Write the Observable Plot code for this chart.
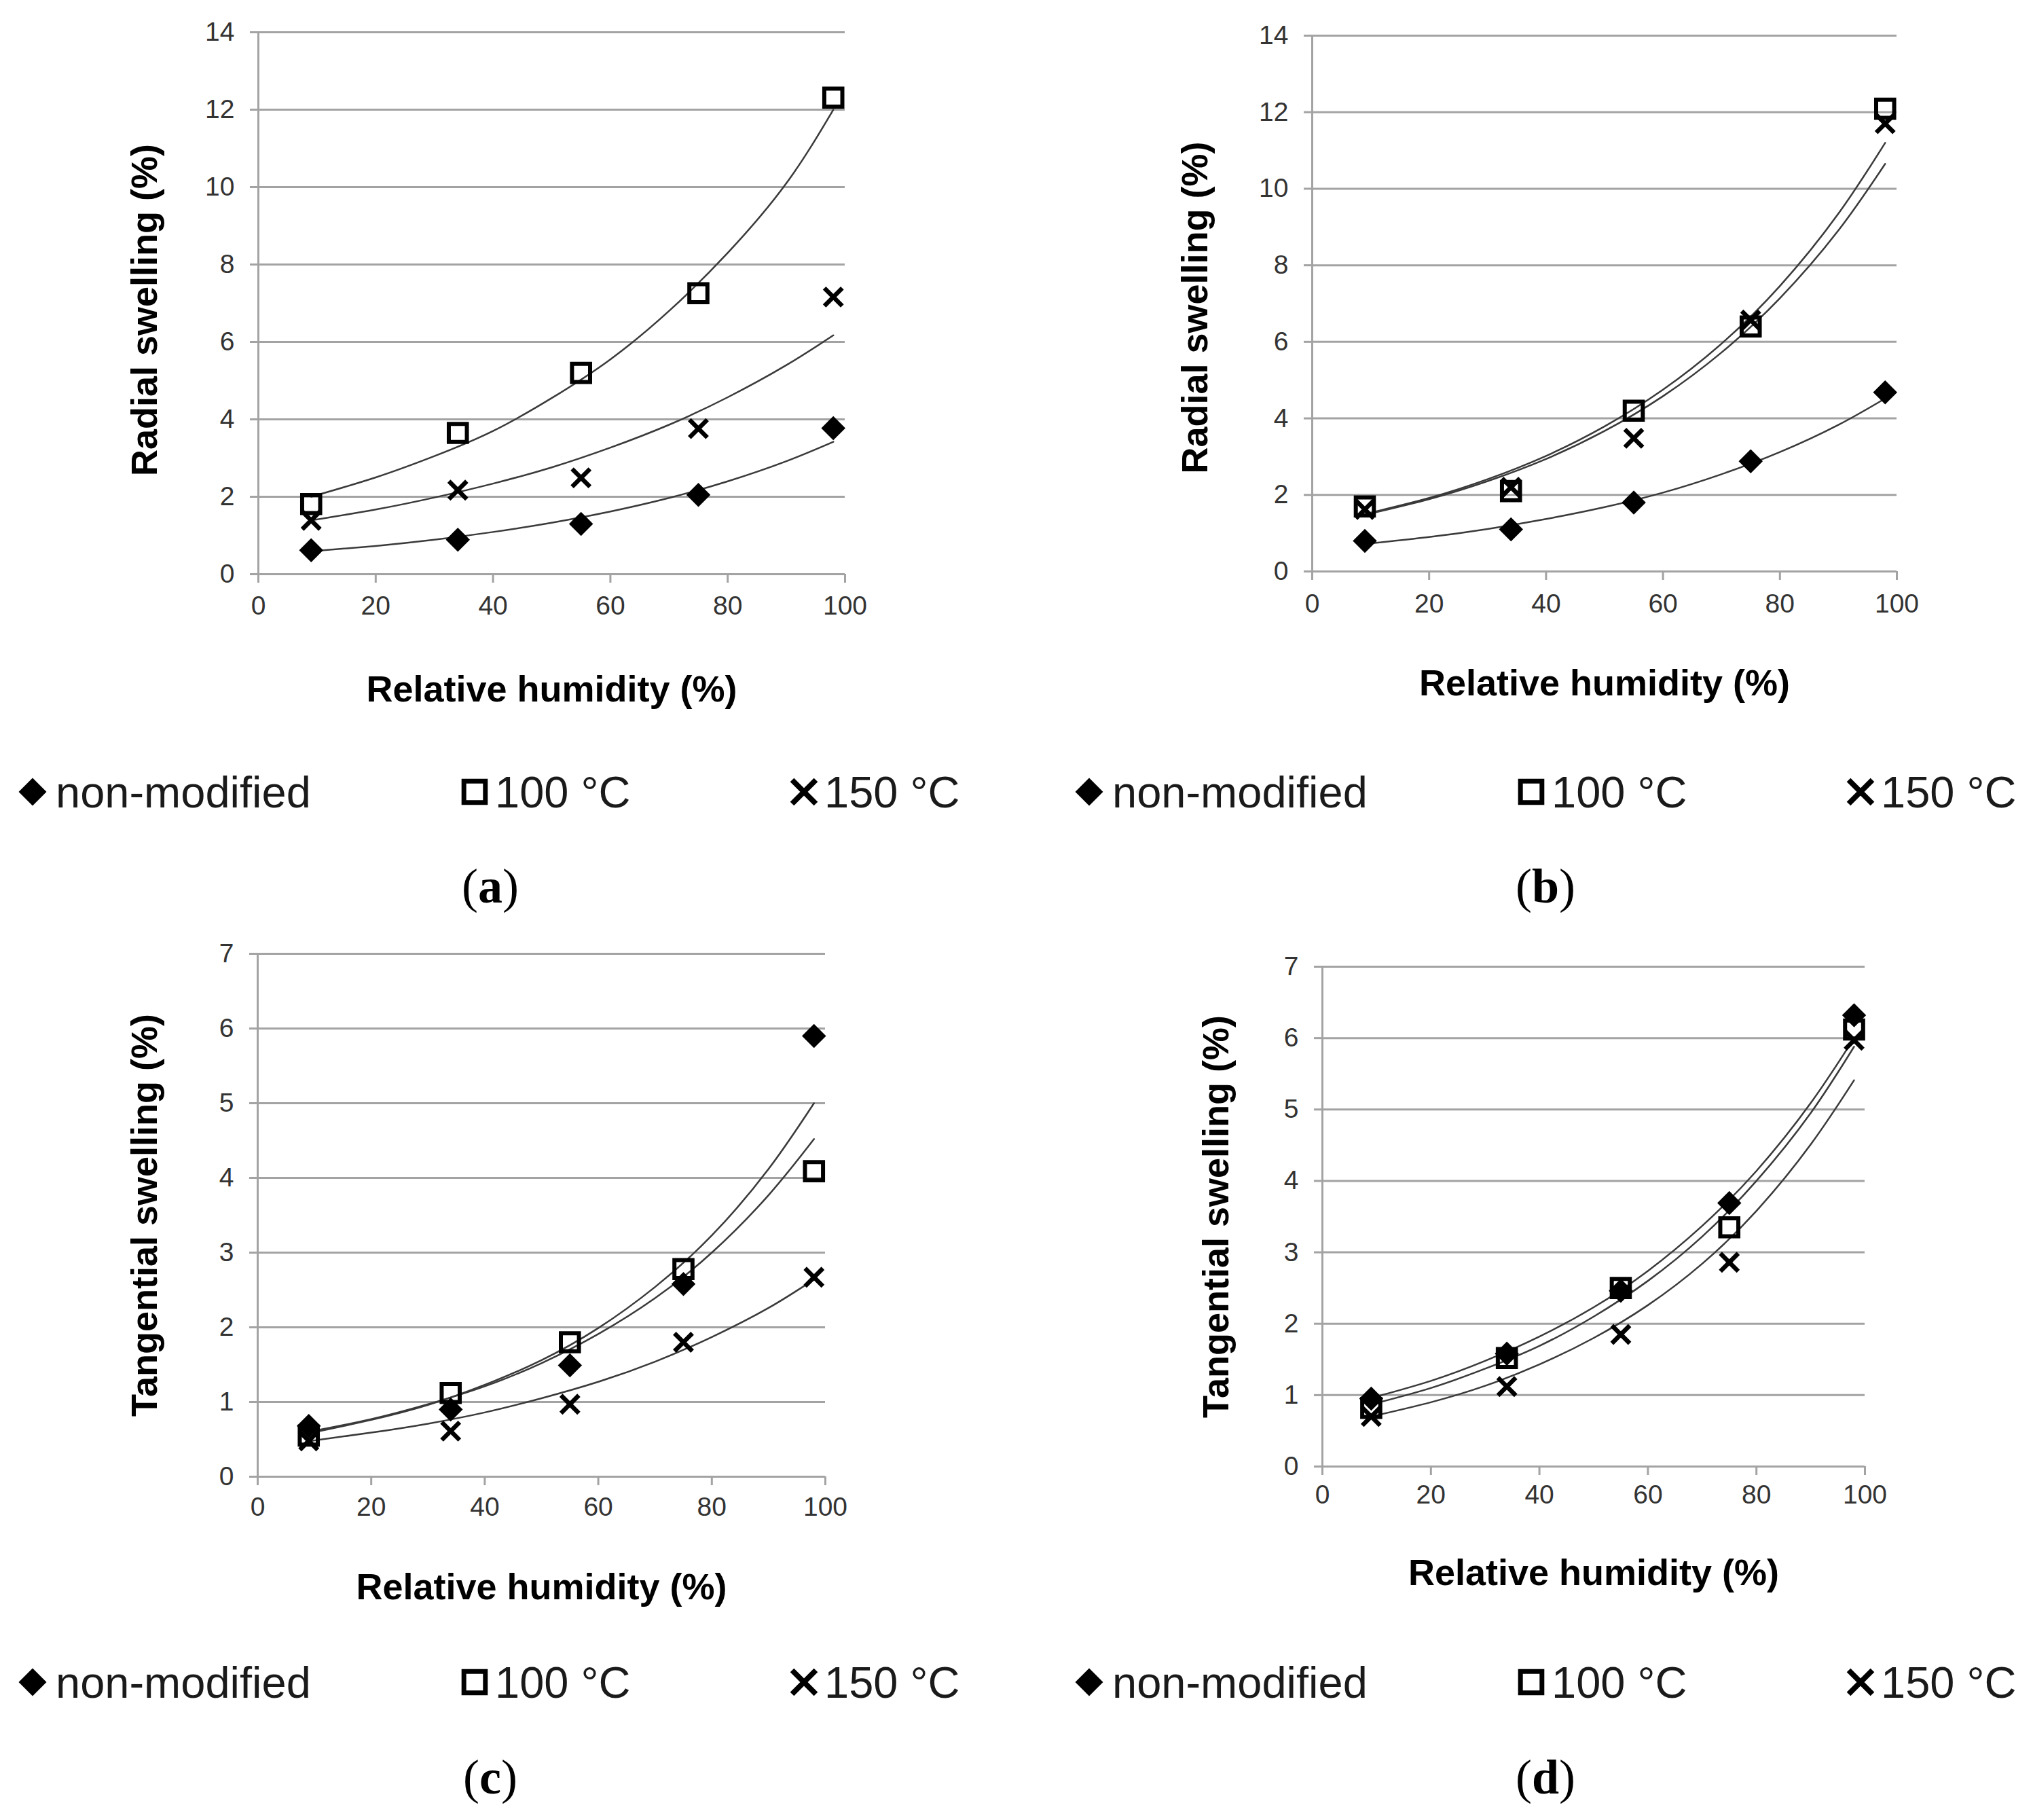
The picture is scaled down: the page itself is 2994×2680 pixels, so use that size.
<!DOCTYPE html>
<html>
<head>
<meta charset="utf-8">
<script src="https://cdn.jsdelivr.net/npm/d3@7"></script>
<script src="https://cdn.jsdelivr.net/npm/@observablehq/plot@0.6"></script>
<style>
  body { margin: 0; background: white; }
  #page {
    position: relative;
    width: 2994px;
    height: 2680px;
    overflow: hidden;
    background: white;
    font-family: "Liberation Sans", Arial, sans-serif;
  }
  .panel { position: absolute; }
  .legend-symbol { position: absolute; overflow: visible; }
  .legend-text {
    position: absolute;
    font-size: 65px;
    line-height: 1;
    color: #1a1a1a;
    white-space: nowrap;
    transform: translateY(-50%);
  }
  .tag {
    position: absolute;
    font-family: "Liberation Serif", "Times New Roman", serif;
    font-size: 72px;
    line-height: 1;
    transform: translate(-50%, -50%);
  }
</style>
</head>
<body>
<div id="page"></div>
<script>
// Relative humidity of the five climates (x of every point)
const rh = [9, 34, 55, 75, 98];
const fitRh = [9, 20, 30, 40, 50, 60, 70, 80, 90, 98];

const seriesNames = ["non-modified", "100 °C", "150 °C"];
const xTicks = [0, 20, 40, 60, 80, 100];
const radialTicks = [0, 2, 4, 6, 8, 10, 12, 14];
const tangentialTicks = [0, 1, 2, 3, 4, 5, 6, 7];
const xTitle = "Relative humidity (%)";
const panelTags = ["a", "b", "c", "d"];

// (a) radial swelling
const radialA_nonMod = [0.62, 0.89, 1.3, 2.05, 3.77];
const radialA_100 = [1.81, 3.65, 5.2, 7.26, 12.31];
const radialA_150 = [1.39, 2.17, 2.49, 3.76, 7.16];
const radialA_fitNonMod = [0.59, 0.73, 0.89, 1.09, 1.33, 1.62, 1.97, 2.4, 2.92, 3.42];
const radialA_fit100 = [2.0, 2.5, 3.05, 3.7, 4.55, 5.55, 6.8, 8.3, 10.1, 12.0];
const radialA_fit150 = [1.39, 1.67, 1.98, 2.34, 2.76, 3.27, 3.86, 4.57, 5.4, 6.17];

// (b) radial swelling
const radialB_nonMod = [0.8, 1.1, 1.8, 2.88, 4.68];
const radialB_100 = [1.7, 2.1, 4.2, 6.4, 12.09];
const radialB_150 = [1.62, 2.2, 3.48, 6.57, 11.7];
const radialB_fitNonMod = [0.72, 0.9, 1.11, 1.37, 1.68, 2.06, 2.54, 3.12, 3.83, 4.52];
const radialB_fit100 = [1.5, 1.92, 2.41, 3.02, 3.79, 4.75, 5.95, 7.46, 9.35, 11.2];
const radialB_fit150 = [1.48, 1.89, 2.36, 2.94, 3.67, 4.58, 5.72, 7.14, 8.91, 10.65];

// (c) tangential swelling
const tangC_nonMod = [0.68, 0.9, 1.49, 2.58, 5.9];
const tangC_100 = [0.55, 1.12, 1.8, 2.78, 4.09];
const tangC_150 = [0.48, 0.61, 0.97, 1.8, 2.67];
const tangC_fitNonMod = [0.58, 0.76, 0.96, 1.23, 1.56, 1.99, 2.54, 3.23, 4.12, 5.0];
const tangC_fit100 = [0.6, 0.77, 0.97, 1.21, 1.52, 1.91, 2.39, 3.0, 3.77, 4.52];
const tangC_fit150 = [0.476, 0.59, 0.71, 0.86, 1.05, 1.27, 1.54, 1.87, 2.26, 2.64];

// (d) tangential swelling
const tangD_nonMod = [0.95, 1.58, 2.46, 3.69, 6.32];
const tangD_100 = [0.82, 1.52, 2.5, 3.35, 6.12];
const tangD_150 = [0.7, 1.12, 1.85, 2.86, 5.97];
const tangD_fitNonMod = [0.96, 1.2, 1.48, 1.82, 2.23, 2.74, 3.37, 4.14, 5.09, 6.0];
const tangD_fit100 = [0.87, 1.1, 1.37, 1.69, 2.1, 2.6, 3.22, 4.0, 4.95, 5.88];
const tangD_fit150 = [0.7, 0.9, 1.13, 1.43, 1.8, 2.26, 2.84, 3.58, 4.51, 5.41];

const gridColor = "#a3a3a3";
const tickTextColor = "#333";
const lineColor = "#3a3a3a";
const fontFamily = '"Liberation Sans", Arial, sans-serif';

const marginLeft = 230;
const marginRight = 70;
const marginTop = 30;
const marginBottom = 215;

// frame = pixel box of the plotting area on the page
const panels = [
  {
    frame: { left: 380, top: 47, w: 864, h: 798 },
    yMax: 14, yTicks: radialTicks, yTitle: "Radial swelling (%)",
    points: [radialA_nonMod, radialA_100, radialA_150],
    fits: [radialA_fitNonMod, radialA_fit100, radialA_fit150],
    xPad: 19, xTitleDy: 170, yTitleDx: 167, yTitleDy: 10,
  },
  {
    frame: { left: 1932, top: 52, w: 861, h: 789 },
    yMax: 14, yTicks: radialTicks, yTitle: "Radial swelling (%)",
    points: [radialB_nonMod, radialB_100, radialB_150],
    fits: [radialB_fitNonMod, radialB_fit100, radialB_fit150],
    xPad: 20, xTitleDy: 165, yTitleDx: 172, yTitleDy: 6,
  },
  {
    frame: { left: 379, top: 1404, w: 836, h: 770 },
    yMax: 7, yTicks: tangentialTicks, yTitle: "Tangential swelling (%)",
    points: [tangC_nonMod, tangC_100, tangC_150],
    fits: [tangC_fitNonMod, tangC_fit100, tangC_fit150],
    xPad: 17, xTitleDy: 163, yTitleDx: 166, yTitleDy: 0,
  },
  {
    frame: { left: 1947, top: 1423, w: 799, h: 736 },
    yMax: 7, yTicks: tangentialTicks, yTitle: "Tangential swelling (%)",
    points: [tangD_nonMod, tangD_100, tangD_150],
    fits: [tangD_fitNonMod, tangD_fit100, tangD_fit150],
    xPad: 14, xTitleDy: 157, yTitleDx: 156, yTitleDy: 0,
  },
];

// legend rows and the (a)...(d) tags, left column; right column is shifted
const columnShift = 1556;
const legendRowY = [1166, 2477];
const tagRowY = [1305, 2617];

function toRows(seriesValues, xs) {
  const rows = [];
  seriesValues.forEach((values, s) => {
    values.forEach((v, i) => rows.push({ rh: xs[i], value: v, series: seriesNames[s] }));
  });
  return rows;
}

function drawPanel(p) {
  const pointRows = toRows(p.points, rh);
  const fitRows = toRows(p.fits, fitRh);
  const bySeries = (name) => pointRows.filter((d) => d.series === name);

  const chart = Plot.plot({
    width: marginLeft + p.frame.w + marginRight,
    height: marginTop + p.frame.h + marginBottom,
    marginLeft,
    marginRight,
    marginTop,
    marginBottom,
    style: { fontFamily, background: "white", overflow: "visible" },
    x: { domain: [0, 100] },
    y: { domain: [0, p.yMax] },
    marks: [
      Plot.ruleY(p.yTicks, { stroke: gridColor, strokeWidth: 3 }),
      Plot.ruleX([0], { stroke: gridColor, strokeWidth: 3 }),
      Plot.axisX({
        ticks: xTicks,
        tickFormat: (d) => `${d}`,
        label: null,
        tickSize: 13,
        tickPadding: p.xPad,
        stroke: gridColor,
        strokeWidth: 3,
        fill: tickTextColor,
        fontSize: 39,
      }),
      Plot.axisY({
        ticks: p.yTicks,
        tickFormat: (d) => `${d}`,
        label: null,
        tickSize: 12,
        tickPadding: 23,
        stroke: gridColor,
        strokeWidth: 3,
        fill: tickTextColor,
        fontSize: 39,
      }),
      Plot.line(fitRows, {
        x: "rh",
        y: "value",
        z: "series",
        curve: "natural",
        stroke: lineColor,
        strokeWidth: 2.5,
      }),
      Plot.dot(bySeries(seriesNames[0]), {
        x: "rh", y: "value", symbol: "diamond2", r: 16, fill: "black",
      }),
      Plot.dot(bySeries(seriesNames[1]), {
        x: "rh", y: "value", symbol: "square", r: 15,
        fill: "none", stroke: "black", strokeWidth: 6,
      }),
      Plot.dot(bySeries(seriesNames[2]), {
        x: "rh", y: "value", symbol: "times", r: 12,
        stroke: "black", strokeWidth: 6.5,
      }),
      Plot.text([p.yTitle], {
        text: (d) => d,
        frameAnchor: "left",
        textAnchor: "middle",
        lineAnchor: "middle",
        dx: -p.yTitleDx,
        dy: p.yTitleDy,
        rotate: -90,
        fontSize: 54,
        fontWeight: "bold",
        fill: "black",
      }),
      Plot.text([xTitle], {
        text: (d) => d,
        frameAnchor: "bottom",
        textAnchor: "middle",
        lineAnchor: "middle",
        dy: p.xTitleDy,
        fontSize: 54,
        fontWeight: "bold",
        fill: "black",
      }),
    ],
  });

  const holder = document.createElement("div");
  holder.className = "panel";
  holder.style.left = `${p.frame.left - marginLeft}px`;
  holder.style.top = `${p.frame.top - marginTop}px`;
  holder.appendChild(chart);
  document.getElementById("page").appendChild(holder);
}

function drawLegend(shiftX, y) {
  const page = d3.select("#page");
  const items = [
    { symbol: d3.symbolDiamond2, size: 1070, cx: 48, textX: 82, fill: "black", stroke: "none", sw: 0 },
    { symbol: d3.symbolSquare, size: 1000, cx: 699, textX: 729, fill: "none", stroke: "black", sw: 7 },
    { symbol: d3.symbolTimes, size: 800, cx: 1184, textX: 1214, fill: "none", stroke: "black", sw: 8 },
  ];
  items.forEach((it, i) => {
    page.append("svg")
      .attr("class", "legend-symbol")
      .attr("width", 60)
      .attr("height", 60)
      .style("left", `${shiftX + it.cx - 30}px`)
      .style("top", `${y - 30}px`)
      .append("path")
      .attr("transform", "translate(30,30)")
      .attr("d", d3.symbol(it.symbol, it.size)())
      .attr("fill", it.fill)
      .attr("stroke", it.stroke)
      .attr("stroke-width", it.sw);

    page.append("div")
      .attr("class", "legend-text")
      .style("left", `${shiftX + it.textX}px`)
      .style("top", `${y}px`)
      .text(seriesNames[i]);
  });
}

function drawTag(letter, x, y) {
  const tag = d3.select("#page").append("div")
    .attr("class", "tag")
    .style("left", `${x}px`)
    .style("top", `${y}px`);
  tag.append("span").text("(");
  tag.append("b").text(letter);
  tag.append("span").text(")");
}

panels.forEach(drawPanel);

legendRowY.forEach((y, row) => {
  [0, 1].forEach((col) => {
    drawLegend(col * columnShift, y);
    drawTag(panelTags[row * 2 + col], 722 + col * 1554, tagRowY[row]);
  });
});
</script>
</body>
</html>
